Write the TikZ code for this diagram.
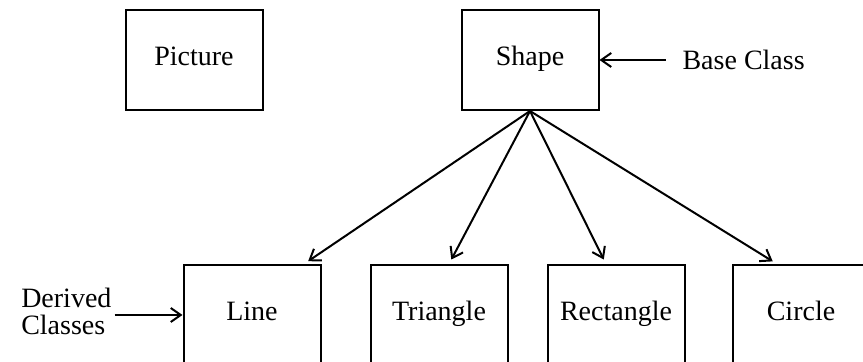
\documentclass[tikz,border=0pt]{standalone}
\usepackage{fontspec}
\setmainfont{Liberation Serif}
\usetikzlibrary{arrows.meta, positioning, calc}
\tikzstyle{block} = [rectangle, draw, line width=1pt, text centered, text height=1.6ex, text depth=0.45ex, minimum width=68.5pt, minimum height=50pt, font=\fontsize{14}{16}\selectfont]
\tikzstyle{note} = [font=\fontsize{14}{13.5}\selectfont]
\tikzstyle{inherit} = [line width=1pt, -{Straight Barb[length=5pt,width=7pt]}]

\begin{document}
\begin{tikzpicture}
	\useasboundingbox (0,0) rectangle (431.5pt,-181pt);

	% Top row
	\node (picture) [block] at (97pt,-30pt) {Picture};
	\node (shape) [block, right=98.5pt of picture] {Shape};
	\node (base) [note, right=38pt of shape] {Base Class};

	% Derived classes
	\node (line) [block, below right=76.5pt and -40.5pt of picture] {Line};
	\node (triangle) [block, right=24pt of line] {Triangle};
	\node (rectangle) [block, right=19pt of triangle] {Rectangle};
	\node (circle) [block, right=23pt of rectangle] {Circle};
	\node (derived) [note, align=left, left=32pt of line, yshift=2pt] {Derived\\Classes};

	% Arrows - labels
	\draw[inherit] ([xshift=-5pt]base.west) -- (shape.east);
	\draw[inherit] ([xshift=-2pt]derived.east |- line.west) -- (line.west);

	% Arrows - inheritance
	\draw[inherit, shorten >=2.5pt] (shape.south) -- ([xshift=26pt]line.north);
	\draw[inherit, shorten >=2.5pt] (shape.south) -- ([xshift=5pt]triangle.north);
	\draw[inherit, shorten >=2.5pt] (shape.south) -- ([xshift=-5pt]rectangle.north);
	\draw[inherit, shorten >=2.5pt] (shape.south) -- ([xshift=-12pt]circle.north);

\end{tikzpicture}
\end{document}
